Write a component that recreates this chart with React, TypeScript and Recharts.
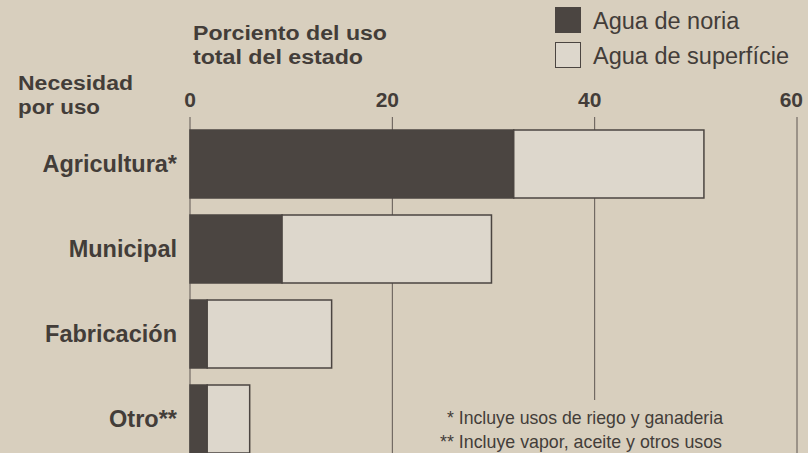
import React from 'react';
import {
  BarChart,
  Bar,
  XAxis,
  YAxis,
  CartesianGrid,
  Legend,
} from 'recharts';

// values (percent of total state use)
const categories = ['Agricultura*', 'Municipal', 'Fabricación', 'Otro**'];
const aguaNoria = [32.0, 9.1, 1.7, 1.7];
const aguaSuperficie = [18.8, 20.7, 12.3, 4.2];
const xTicks = [0, 20, 40, 60];

const data = categories.map((name, i) => ({
  name,
  noria: aguaNoria[i],
  superficie: aguaSuperficie[i],
}));

const PAPER = '#d8cfbe';
const INK = '#433d39';
const DARK = '#4b4541';
const LIGHT = '#ddd7cc';
const FONT = '"Liberation Sans", Arial, Helvetica, sans-serif';

const XTick = (props: any) => {
  const { x, y, payload } = props;
  const v = payload.value;
  // el 60 queda pegado al borde derecho
  const anchor = v === 60 ? 'end' : 'middle';
  const dx = v === 0 ? 0 : v === 60 ? 6 : -5;
  return (
    <text x={x} y={y} dx={dx} textAnchor={anchor} fontFamily={FONT} fontWeight={700} fontSize={21} fill={INK}>
      {v}
    </text>
  );
};

const YTick = (props: any) => {
  const { x, y, payload } = props;
  return (
    <text x={x} y={y} dy={8} textAnchor='end' fontFamily={FONT} fontWeight={700} fontSize={23.5} fill={INK}>
      {payload.value}
    </text>
  );
};

const GridLine = (p: any) => (
  <line
    key={p.key}
    x1={p.x1}
    x2={p.x2}
    y1={p.y1}
    // la linea del 40 se corta antes de las notas
    y2={p.index === 2 ? 400 : p.y2}
    stroke='#5e5752'
    strokeWidth={1}
  />
);

const LegendBox = (props: any) => {
  const { payload = [] } = props;
  return (
    <div style={{ fontFamily: FONT, fontSize: 23.5, color: INK }}>
      {payload.map((entry: any, i: number) => (
        <div key={entry.value} style={{ display: 'flex', alignItems: 'center', height: 34, marginTop: i ? 1 : 0 }}>
          <span
            style={{
              display: 'inline-block',
              width: 24,
              height: 24,
              background: entry.color,
              border: `1.5px solid ${DARK}`,
              marginRight: 12,
              flexShrink: 0,
            }}
          />
          <span style={{ position: 'relative', top: 1 }}>{entry.value}</span>
        </div>
      ))}
    </div>
  );
};

const Heading = ({ x, y, width, children }: any) => (
  <text x={x} y={y} fontSize={20} fontWeight={700} textLength={width} lengthAdjust='spacingAndGlyphs'>
    {children}
  </text>
);

export default function App() {
  return (
    <div
      style={{
        position: 'absolute',
        left: 0,
        top: 0,
        width: 808,
        height: 453,
        overflow: 'hidden',
        background: PAPER,
      }}
    >
      <svg
        width={808}
        height={453}
        style={{ position: 'absolute', left: 0, top: 0 }}
        fontFamily={FONT}
        fill={INK}
      >
        <Heading x={193} y={40} width={194}>Porciento del uso</Heading>
        <Heading x={193} y={63.5} width={170}>total del estado</Heading>
        <Heading x={18} y={90} width={115}>Necesidad</Heading>
        <Heading x={18} y={113.5} width={82}>por uso</Heading>
      </svg>
      <div style={{ position: 'absolute', left: 0, top: 0 }}>
        <BarChart
          width={808}
          height={461}
          data={data}
          layout='vertical'
          margin={{ top: 0, right: 11, bottom: 0, left: 0 }}
          barSize={68}
        >
          <CartesianGrid horizontal={false} vertical={GridLine} />
          <XAxis
            type='number'
            orientation='top'
            domain={[0, 60]}
            ticks={xTicks}
            height={117}
            axisLine={false}
            tickLine={false}
            tickSize={0}
            tickMargin={10}
            tick={<XTick />}
            interval={0}
          />
          <YAxis
            type='category'
            dataKey='name'
            width={190}
            axisLine={false}
            tickLine={false}
            tickSize={0}
            tickMargin={13}
            tick={<YTick />}
            padding={{ top: 4, bottom: 0 }}
            interval={0}
          />
          <Legend
            layout='horizontal'
            verticalAlign='middle'
            align='center'
            content={<LegendBox />}
            wrapperStyle={{ position: 'absolute', left: 555, top: 3, width: 260 }}
          />
          <Bar
            dataKey='noria'
            name='Agua de noria'
            stackId='a'
            fill={DARK}
            stroke={DARK}
            strokeWidth={1.5}
            isAnimationActive={false}
          />
          <Bar
            dataKey='superficie'
            name='Agua de superfície'
            stackId='a'
            fill={LIGHT}
            stroke={DARK}
            strokeWidth={1.5}
            isAnimationActive={false}
          />
        </BarChart>
      </div>
      <svg
        width={808}
        height={453}
        style={{ position: 'absolute', left: 0, top: 0, pointerEvents: 'none' }}
        fontFamily={'"Liberation Sans Narrow", "Liberation Sans", Arial, sans-serif'}
        fill={INK}
      >
        <text x={447} y={424} fontSize={19} textLength={276} lengthAdjust='spacingAndGlyphs'>
          * Incluye usos de riego y ganaderia
        </text>
        <text x={440} y={448} fontSize={19} textLength={282} lengthAdjust='spacingAndGlyphs'>
          ** Incluye vapor, aceite y otros usos
        </text>
      </svg>
    </div>
  );
}
